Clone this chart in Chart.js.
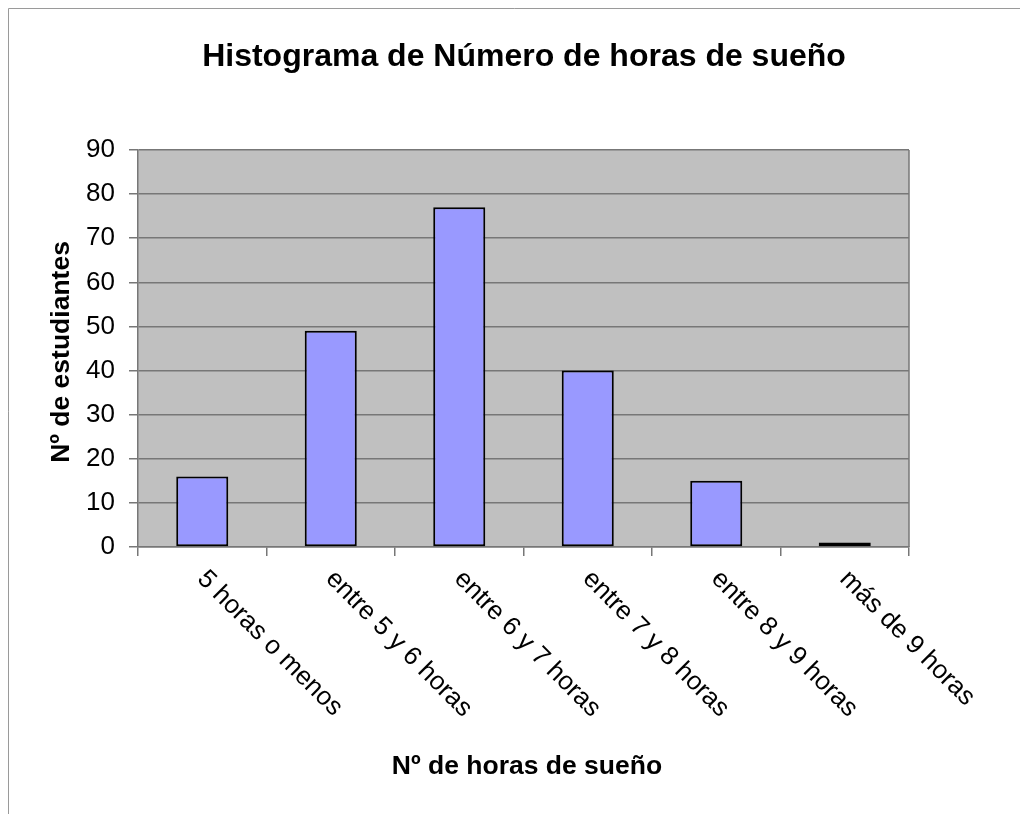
<!DOCTYPE html>
<html>
<head>
<meta charset="utf-8">
<script src="https://cdn.jsdelivr.net/npm/chart.js@4/dist/chart.umd.min.js"></script>
<style>
  html, body { margin: 0; padding: 0; background: #fff; }
  canvas { display: block; }
</style>
</head>
<body>
<canvas id="histogram_chart" width="1020" height="814"></canvas>
<script>
// data
var categories = ['5 horas o menos', 'entre 5 y 6 horas', 'entre 6 y 7 horas', 'entre 7 y 8 horas', 'entre 8 y 9 horas', 'más de 9 horas'];
var students = [16, 49, 77, 40, 15, 1];
var yTicks = [0, 10, 20, 30, 40, 50, 60, 70, 80, 90];

var chartTitle = 'Histograma de Número de horas de sueño';
var xTitle = 'Nº de horas de sueño';
var yTitle = 'Nº de estudiantes';

var FONT = '"Liberation Sans", Arial, sans-serif';
var GRID = '#777777';

// background, frame, rotated category labels, titles
var decorations = {
    id: 'decorations',
    beforeDraw: function(chart) {
        var ctx = chart.ctx, a = chart.chartArea;
        ctx.save();
        ctx.fillStyle = '#ffffff';
        ctx.fillRect(0, 0, chart.width, chart.height);
        ctx.strokeStyle = '#9a9a9a';
        ctx.lineWidth = 1;
        ctx.beginPath();
        ctx.moveTo(8.5, chart.height);
        ctx.lineTo(8.5, 8.5);
        ctx.lineTo(chart.width, 8.5);
        ctx.stroke();
        ctx.fillStyle = '#c0c0c0';
        ctx.fillRect(a.left, a.top, a.right - a.left, a.bottom - a.top);
        ctx.restore();
    },
    afterDraw: function(chart) {
        var ctx = chart.ctx, a = chart.chartArea, xs = chart.scales.x;
        ctx.save();
        // right edge of plot
        ctx.strokeStyle = GRID;
        ctx.lineWidth = 1.5;
        ctx.beginPath();
        ctx.moveTo(a.right, a.top);
        ctx.lineTo(a.right, a.bottom);
        ctx.stroke();

        ctx.fillStyle = '#000';
        ctx.font = '26px ' + FONT;
        ctx.textAlign = 'left';
        ctx.textBaseline = 'middle';
        categories.forEach(function(label, i) {
            var x = xs.getPixelForValue(i);
            ctx.save();
            ctx.translate(x - 1, a.bottom + 28);
            ctx.rotate(Math.PI / 4);
            ctx.fillText(label, 0, 0);
            ctx.restore();
        });

        ctx.textAlign = 'center';
        ctx.font = 'bold 32px ' + FONT;
        ctx.fillText(chartTitle, 524, 57);
        ctx.font = 'bold 26.5px ' + FONT;
        ctx.fillText(xTitle, 527, 767);
        ctx.save();
        ctx.translate(62, 352);
        ctx.rotate(-Math.PI / 2);
        ctx.fillText(yTitle, 0, 0);
        ctx.restore();
        ctx.restore();
    }
};

var ctx = document.getElementById('histogram_chart').getContext('2d');
var histogramChart = new Chart(ctx, {
    type: 'bar',
    data: {
        labels: categories,
        datasets: [{
            label: yTitle,
            data: students,
            backgroundColor: '#9999ff',
            borderColor: '#000000',
            borderWidth: 2,
            borderSkipped: false,
            barPercentage: 0.405,
            categoryPercentage: 1
        }]
    },
    options: {
        responsive: false,
        animation: false,
        devicePixelRatio: 1,
        layout: {
            padding: { left: 0, top: 150, right: 111, bottom: 0 }
        },
        plugins: {
            legend: { display: false },
            title: { display: false },
            tooltip: { enabled: false }
        },
        scales: {
            x: {
                offset: true,
                grid: {
                    offset: true,
                    drawOnChartArea: false,
                    drawTicks: true,
                    tickLength: 9,
                    color: GRID,
                    lineWidth: 1.5
                },
                border: { color: GRID, width: 1.5 },
                ticks: { display: false },
                afterFit: function(scale) { scale.height = 814 - 547; }
            },
            y: {
                min: 0,
                max: 90,
                afterBuildTicks: function(scale) {
                    scale.ticks = yTicks.map(function(v) { return { value: v }; });
                },
                grid: {
                    color: GRID,
                    lineWidth: 1.5,
                    tickLength: 9
                },
                border: { color: GRID, width: 1.5 },
                ticks: {
                    color: '#000',
                    padding: 14,
                    font: { family: FONT, size: 26 }
                },
                afterFit: function(scale) { scale.width = 138; }
            }
        }
    },
    plugins: [decorations]
});
</script>
</body>
</html>
